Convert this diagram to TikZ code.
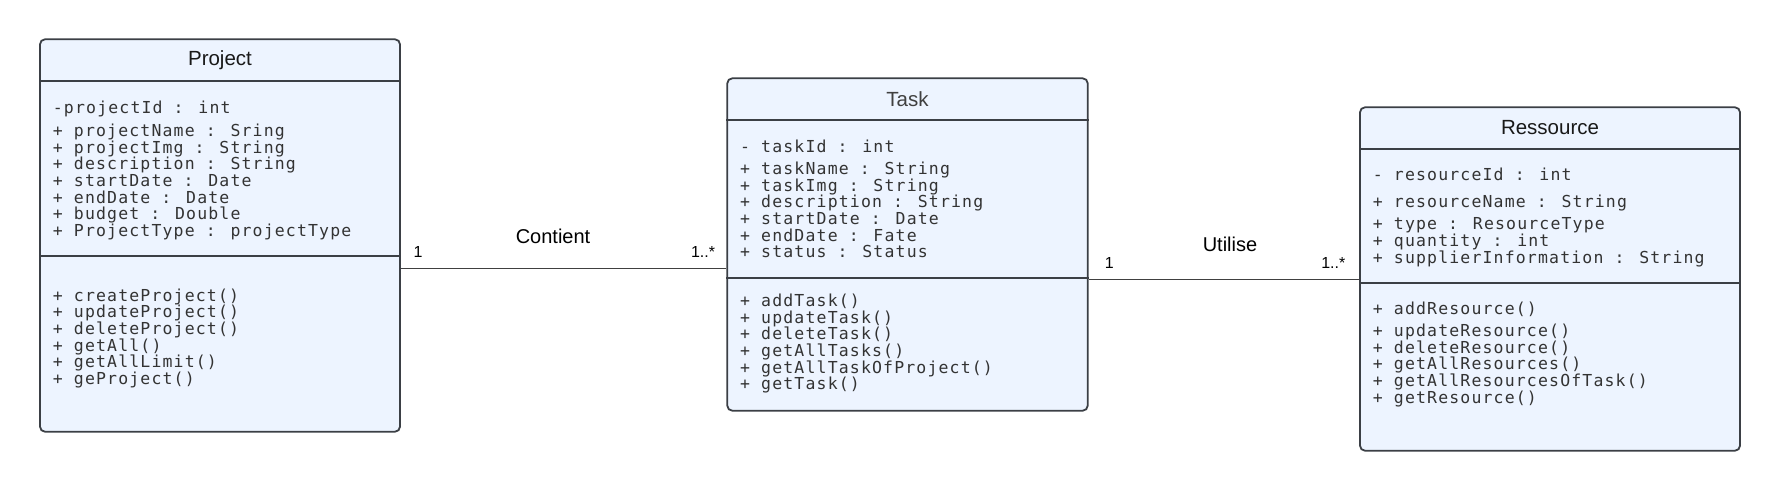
\documentclass[tikz,border=0pt]{standalone}
\usepackage{fontspec}
\setmainfont{Liberation Sans}
\newfontfamily\membfont[LetterSpace=7]{DejaVu Sans Mono}
\usetikzlibrary{positioning}
\definecolor{boxfill}{RGB}{237,244,255}
\definecolor{boxline}{RGB}{59,63,69}

\begin{document}
\begin{tikzpicture}[x=1pt, y=-1pt, classbox/.style={draw=boxline, fill=boxfill, line width=1.8pt, rounded corners=5pt, inner sep=0pt}, title/.style={font=\fontsize{20.5}{24}\selectfont, text=black!90}, members/.style={anchor=base west, align=left, inner sep=0pt, font=\membfont\fontsize{16.5}{16.7}\selectfont, text=black!80}, sep/.style={draw=boxline, line width=1.8pt}, assoc/.style={draw=black!75, line width=0.9pt}, mult/.style={font=\fontsize{16}{18}\selectfont}, rolename/.style={font=\fontsize{20}{24}\selectfont}]

    \useasboundingbox (0,0) rectangle (1780,491);

    %Nodes
    \node[classbox, minimum width=360pt, minimum height=392.4pt](project) at (220,235.5){};
    \node[classbox, minimum width=360.4pt, minimum height=332.4pt](task) at (907.5,244.5){};
    \node[classbox, minimum width=380pt, minimum height=343.4pt](resource) at (1550,279){};

    \node[title](projecttitle) at (project.north |- 0,60){Project};
    \node[title, text=black!75](tasktitle) at (task.north |- 0,99.3){Task};
    \node[title](resourcetitle) at (resource.north |- 0,127.3){Ressource};

    % base = last line
    \node[members](projectattr) at (52.7,236.5){-projectId : int\\[6pt] + projectName : Sring\\ + projectImg : String\\ + description : String\\ + startDate : Date\\ + endDate : Date\\ + budget : Double\\ + ProjectType : projectType};
    \node[members](projectops) at (52.7,384.5){+ createProject()\\ + updateProject()\\ + deleteProject()\\ + getAll()\\ + getAllLimit()\\ + geProject()};

    \node[members](taskattr) at (740,257.8){- taskId : int\\[5pt] + taskName : String\\ + taskImg : String\\ + description : String\\ + startDate : Date\\ + endDate : Fate\\ + status : Status};
    \node[members](taskops) at (740,389.8){+ addTask()\\ + updateTask()\\ + deleteTask()\\ + getAllTasks()\\ + getAllTaskOfProject()\\ + getTask()};

    \node[members](resourceattr) at (1372.7,263.2){- resourceId : int\\[10pt] + resourceName : String\\[6pt] + type : ResourceType\\ + quantity : int\\ + supplierInformation : String};
    \node[members](resourceops) at (1372.7,403.2){+ addResource()\\[5pt] + updateResource()\\ + deleteResource()\\ + getAllResources()\\ + getAllResourcesOfTask()\\ + getResource()};

    \node[mult](projectmult) at (418,251.7){1};
    \node[rolename](contient) at (553,236){Contient};
    \node[mult](taskmultin) at (703,251.7){1..*};
    \node[mult](taskmultout) at (1109.3,263.3){1};
    \node[rolename](utilise) at (1230,244){Utilise};
    \node[mult](resourcemult) at (1333.3,263.3){1..*};

    %Lines
    \draw[sep] (project.west |- 0,81) -- (project.east |- 0,81);
    \draw[sep] (project.west |- 0,256) -- (project.east |- 0,256);
    \draw[sep] (task.west |- 0,120) -- (task.east |- 0,120);
    \draw[sep] (task.west |- 0,278.3) -- (task.east |- 0,278.3);
    \draw[sep] (resource.west |- 0,149) -- (resource.east |- 0,149);
    \draw[sep] (resource.west |- 0,282.7) -- (resource.east |- 0,282.7);

    \coordinate (contline) at (0,268.3);
    \coordinate (utilline) at (0,279.3);
    \draw[assoc] (project.east |- contline) -- (task.west |- contline);
    \draw[assoc] (task.east |- utilline) -- (resource.west |- utilline);

\end{tikzpicture}
\end{document}
